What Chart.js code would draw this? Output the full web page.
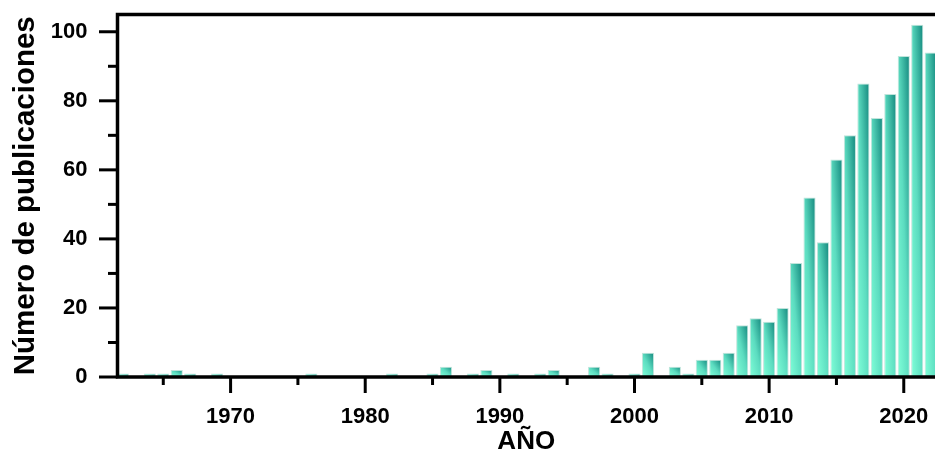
<!DOCTYPE html>
<html>
<head>
<meta charset="utf-8">
<title>Número de publicaciones por año</title>
<script src="https://cdn.jsdelivr.net/npm/chart.js@4.4.1/dist/chart.umd.min.js"></script>
<style>
  html, body { margin: 0; padding: 0; background: #fff; }
  #wrap { width: 935px; height: 457px; }
</style>
</head>
<body>
<div id="wrap"><canvas id="pubChart" width="935" height="457"></canvas></div>
<script>
// datos
const years = [1962, 1964, 1965, 1966, 1967, 1969, 1976, 1982, 1985, 1986, 1988, 1989,
  1991, 1993, 1994, 1997, 1998, 2000, 2001, 2003, 2004, 2005, 2006, 2007, 2008, 2009,
  2010, 2011, 2012, 2013, 2014, 2015, 2016, 2017, 2018, 2019, 2020, 2021, 2022];
const counts = [1, 1, 1, 2, 1, 1, 1, 1, 1, 3, 1, 2,
  1, 1, 2, 3, 1, 1, 7, 3, 1, 5, 5, 7, 15, 17,
  16, 20, 33, 52, 39, 63, 70, 85, 75, 82, 93, 102, 94];
const xTickLabels = [1970, 1980, 1990, 2000, 2010, 2020];
const xMinorTicks = [1965, 1975, 1985, 1995, 2005, 2015];
const yTickLabels = [0, 20, 40, 60, 80, 100];
const yMinorTicks = [10, 30, 50, 70, 90];

const FONT = "'Liberation Sans', Arial, sans-serif";

// degradado diagonal por barra (abajo-izquierda claro -> arriba-derecha oscuro)
const gradientPlugin = {
  id: 'barGradient',
  beforeDatasetsDraw(chart) {
    const ctx = chart.ctx;
    chart.getDatasetMeta(0).data.forEach(bar => {
      const p = bar.getProps(['x', 'y', 'base', 'width'], true);
      if (![p.x, p.y, p.base, p.width].every(Number.isFinite)) return;
      const x0 = p.x - p.width / 2;
      const w = Math.max(p.width, 1), h = Math.max(p.base - p.y, 1);
      const gx = 1 / (2 * w), gy = -1 / (2 * h);
      const g2 = gx * gx + gy * gy;
      const grad = ctx.createLinearGradient(x0, p.base, x0 + gx / g2, p.base + gy / g2);
      grad.addColorStop(0, '#80ffd8');
      grad.addColorStop(0.5, '#5cdcc0');
      grad.addColorStop(1, '#13877d');
      bar.options = Object.assign({}, bar.options, { backgroundColor: grad });
    });
  }
};

// ejes, marco y marcas menores
const axesPlugin = {
  id: 'axesFrame',
  afterDatasetsDraw(chart) {
    const ctx = chart.ctx;
    const a = chart.chartArea;
    const xs = chart.scales.x, ys = chart.scales.y;
    ctx.save();
    ctx.strokeStyle = '#000';
    ctx.lineCap = 'butt';
    ctx.lineWidth = 3;
    yTickLabels.forEach(v => {
      const y = ys.getPixelForValue(v);
      ctx.beginPath(); ctx.moveTo(99, y); ctx.lineTo(a.left, y); ctx.stroke();
    });
    yMinorTicks.forEach(v => {
      const y = ys.getPixelForValue(v);
      ctx.beginPath(); ctx.moveTo(108, y); ctx.lineTo(a.left, y); ctx.stroke();
    });
    xTickLabels.forEach(v => {
      const x = xs.getPixelForValue(v);
      ctx.beginPath(); ctx.moveTo(x, a.bottom); ctx.lineTo(x, a.bottom + 16); ctx.stroke();
    });
    xMinorTicks.forEach(v => {
      const x = xs.getPixelForValue(v);
      ctx.beginPath(); ctx.moveTo(x, a.bottom); ctx.lineTo(x, a.bottom + 8); ctx.stroke();
    });
    ctx.lineWidth = 3.5;
    ctx.beginPath();
    ctx.moveTo(a.right + 2, a.top); ctx.lineTo(a.left, a.top);
    ctx.lineTo(a.left, a.bottom); ctx.lineTo(a.right + 2, a.bottom);
    ctx.stroke();
    ctx.restore();
  }
};

const ctx_pub = document.getElementById('pubChart').getContext('2d');

const pubChart = new Chart(ctx_pub, {
  type: 'bar',
  data: {
    datasets: [{
      label: 'Número de publicaciones',
      data: years.map((y, i) => ({ x: y, y: counts[i] })),
      backgroundColor: () => '#46c6ac',
      borderColor: 'rgba(185, 225, 215, 0.9)',
      borderWidth: 1,
      borderSkipped: 'start',
      barPercentage: 0.9,
      categoryPercentage: 1.0
    }]
  },
  options: {
    responsive: false,
    devicePixelRatio: 1,
    animation: false,
    layout: { padding: { top: 14.5, left: 0, right: 0, bottom: 0 } },
    plugins: {
      legend: { display: false },
      tooltip: { enabled: false }
    },
    scales: {
      x: {
        type: 'linear',
        offset: false,
        min: 1961.6,
        max: 2022.32,
        grid: { display: true, drawOnChartArea: false, drawTicks: true, tickLength: 27, tickColor: 'rgba(0,0,0,0)' },
        border: { display: false },
        afterFit(scale) { scale.height = 80; },
        afterBuildTicks(scale) { scale.ticks = xTickLabels.map(v => ({ value: v })); },
        ticks: {
          padding: 0,
          maxRotation: 0,
          autoSkip: false,
          color: '#000',
          font: { family: FONT, size: 22, weight: 'bold' },
          callback: v => String(v)
        },
        title: {
          display: true,
          text: 'AÑO',
          color: '#000',
          padding: { top: 0, bottom: 0 },
          font: { family: FONT, size: 26, weight: 'bold' }
        }
      },
      y: {
        min: 0,
        max: 105,
        grid: { display: true, drawOnChartArea: false, drawTicks: true, tickLength: 30, tickColor: 'rgba(0,0,0,0)' },
        border: { display: false },
        afterFit(scale) { scale.width = 117.5; },
        afterBuildTicks(scale) { scale.ticks = yTickLabels.map(v => ({ value: v })); },
        ticks: {
          padding: 0,
          color: '#000',
          font: { family: FONT, size: 22, weight: 'bold' }
        },
        title: {
          display: true,
          text: 'Número de publicaciones',
          color: '#000',
          padding: { top: 8, bottom: 0 },
          font: { family: FONT, size: 29.5, weight: 'bold' }
        }
      }
    }
  },
  plugins: [gradientPlugin, axesPlugin]
});
</script>
</body>
</html>
